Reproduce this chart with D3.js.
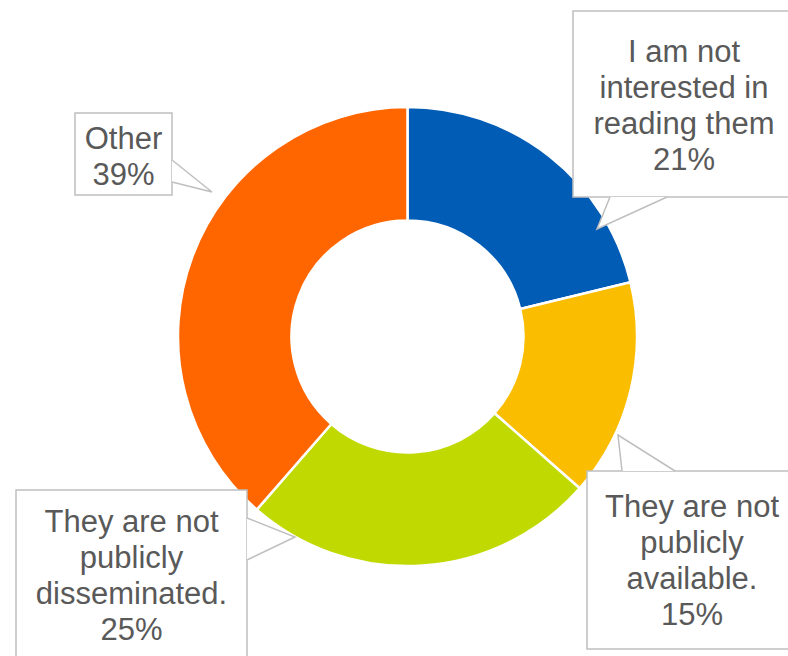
<!DOCTYPE html>
<html>
<head>
<meta charset="utf-8">
<script src="https://cdn.jsdelivr.net/npm/d3@7"></script>
<style>
  html, body { margin: 0; padding: 0; background: #fff; }
  svg { display: block; }
  .callout rect, .callout path { fill: #fff; stroke: #bfbfbf; stroke-width: 1.5; }
  .callout text { fill: #595959; font-family: "Liberation Sans", Arial, sans-serif; font-size: 31px; text-anchor: middle; }
</style>
</head>
<body>
<svg id="chart" width="788" height="656"></svg>
<script>
// data
const categories = ["I am not interested in reading them", "They are not publicly available.", "They are not publicly disseminated.", "Other"];
const shares = [21.2, 15.3, 24.9, 38.6];
const labelLines = [
  ["I am not", "interested in", "reading them"],
  ["They are not", "publicly", "available."],
  ["They are not", "publicly", "disseminated."],
  ["Other"]
];
const colors = ["#005cb5", "#fabd00", "#c0d900", "#ff6600"];

// callout layout: box [x, y, w, h], tail [base1, tip, base2], text centre x, first baseline
const callouts = [
  {box: [573, 11, 225, 186], tail: [[610, 197], [597, 229], [667, 197]], tx: 684, ty: 62},
  {box: [587, 471, 211, 178], tail: [[622, 471], [618, 435], [675, 471]], tx: 692, ty: 517},
  {box: [16, 490, 231, 180], tail: [[247, 518], [295, 537], [247, 560]], tx: 131.5, ty: 532},
  {box: [75, 113, 97, 82], tail: [[172, 160], [212, 192], [172, 182]], tx: 123.5, ty: 149}
];

const svg = d3.select("#chart");
const cx = 407.5, cy = 336.5, outerR = 229.5, innerR = 116;

const pie = d3.pie().sort(null).value(d => d)(shares);
const arc = d3.arc().innerRadius(innerR).outerRadius(outerR);

const g = svg.append("g").attr("transform", "translate(" + cx + "," + cy + ")");
g.selectAll("path")
  .data(pie)
  .enter().append("path")
    .attr("d", arc)
    .attr("fill", (d, i) => colors[i])
    .attr("stroke", "#fff")
    .attr("stroke-width", 2.5)
    .attr("stroke-linejoin", "round");

const lineH = 36;
callouts.forEach((c, i) => {
  const co = svg.append("g").attr("class", "callout");
  const [x, y, w, h] = c.box;
  co.append("rect").attr("x", x).attr("y", y).attr("width", w).attr("height", h);
  // tail: white fill covering the box border, then the two sides
  co.append("path")
    .attr("d", "M" + c.tail.map(p => p.join(",")).join("L"))
    .style("stroke", "none");
  co.append("path")
    .attr("d", "M" + c.tail.map(p => p.join(",")).join("L"))
    .style("fill", "none");
  const lines = labelLines[i].concat([Math.round(shares[i]) + "%"]);
  co.selectAll("text.l")
    .data(lines)
    .enter().append("text")
      .attr("class", "l")
      .attr("x", c.tx)
      .attr("y", (d, j) => c.ty + j * lineH)
      .text(d => d);
});
</script>
</body>
</html>
